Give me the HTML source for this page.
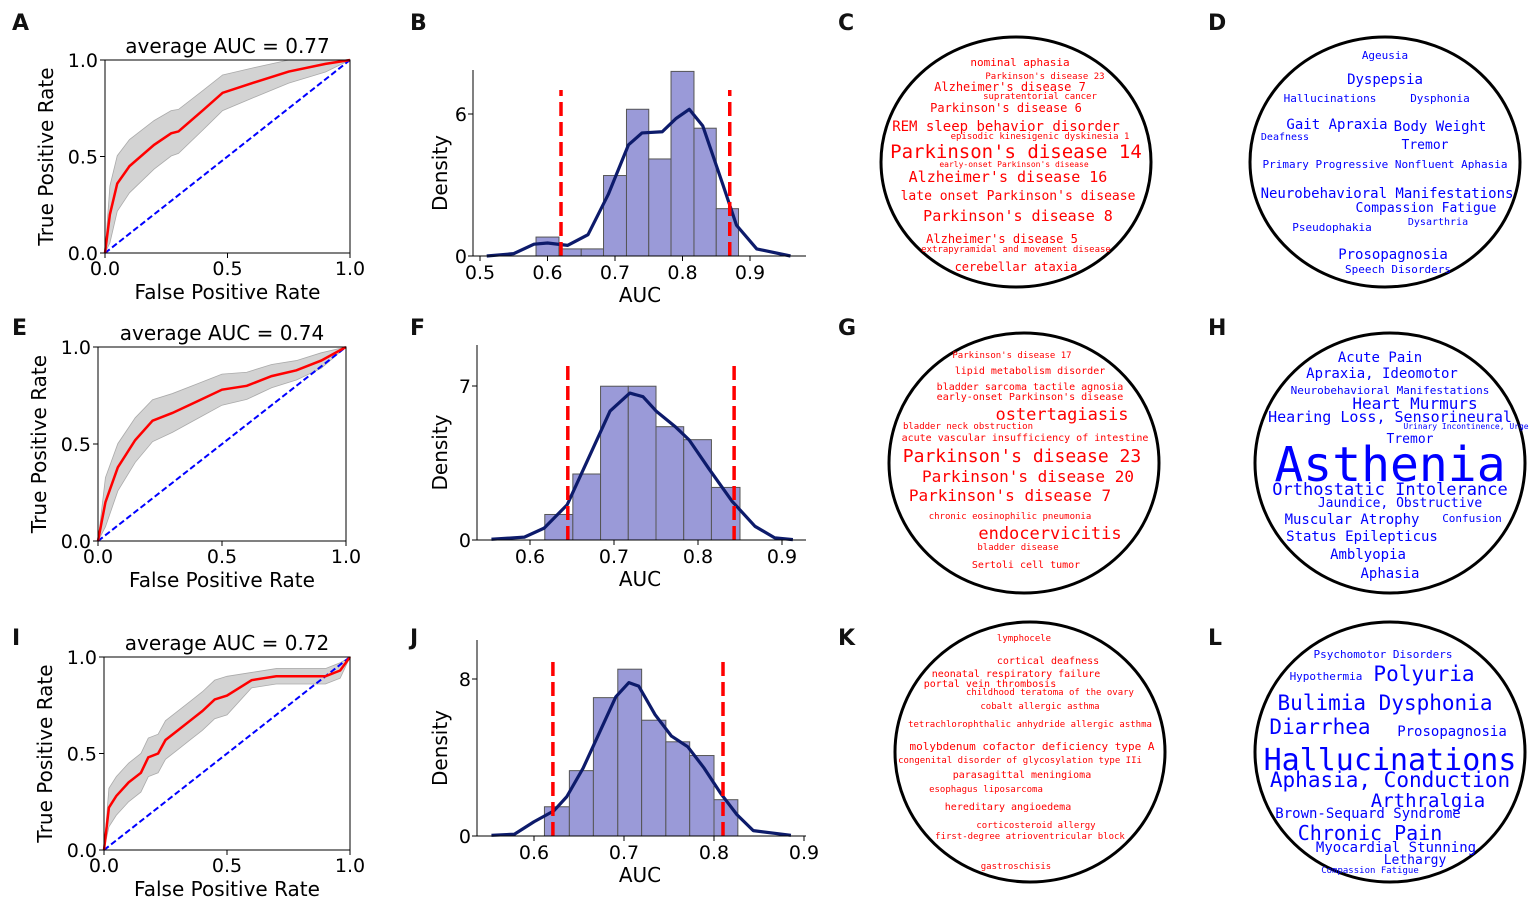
<!DOCTYPE html><html><head><meta charset="utf-8"><style>
body{margin:0;background:#fff}svg{display:block}
text{font-family:"DejaVu Sans","Liberation Sans",sans-serif}
.wc text{font-family:"DejaVu Sans Mono","Liberation Mono",monospace;text-anchor:middle}
</style></head><body>
<svg id="s" width="1535" height="902" viewBox="0 0 1535 902" xmlns="http://www.w3.org/2000/svg">
<g font-weight="bold" font-size="22" fill="#111">
<text x="12" y="30">A</text><text x="410" y="30">B</text><text x="838" y="30">C</text><text x="1208" y="30">D</text>
<text x="12" y="335">E</text><text x="410" y="335">F</text><text x="838" y="335">G</text><text x="1208" y="335">H</text>
<text x="12" y="645">I</text><text x="410" y="645">J</text><text x="838" y="645">K</text><text x="1208" y="645">L</text>
</g>
<g class="wc" fill="none" stroke="#000" stroke-width="3">
<ellipse cx="1016" cy="162" rx="135" ry="125"/><ellipse cx="1385" cy="162" rx="135" ry="125"/>
<ellipse cx="1024" cy="463" rx="135" ry="130"/><ellipse cx="1390" cy="463" rx="135" ry="130"/>
<ellipse cx="1030" cy="752" rx="135" ry="130"/><ellipse cx="1390" cy="752" rx="135" ry="130"/>
</g>
<g class="wc" fill="#f00">
<text x="1020" y="66" font-size="11">nominal aphasia</text>
<text x="1045" y="79" font-size="9">Parkinson's disease 23</text>
<text x="1010" y="91" font-size="12">Alzheimer's disease 7</text>
<text x="1040" y="99" font-size="9">supratentorial cancer</text>
<text x="1006" y="112" font-size="12">Parkinson's disease 6</text>
<text x="1006" y="131" font-size="14">REM sleep behavior disorder</text>
<text x="1040" y="139" font-size="9">episodic kinesigenic dyskinesia 1</text>
<text x="1016" y="158" font-size="19">Parkinson's disease 14</text>
<text x="1014" y="167" font-size="8">early-onset Parkinson's disease</text>
<text x="1008" y="182" font-size="15">Alzheimer's disease 16</text>
<text x="1018" y="200" font-size="13">late onset Parkinson's disease</text>
<text x="1018" y="221" font-size="15">Parkinson's disease 8</text>
<text x="1002" y="243" font-size="12">Alzheimer's disease 5</text>
<text x="1016" y="252" font-size="9">extrapyramidal and movement disease</text>
<text x="1016" y="271" font-size="12">cerebellar ataxia</text>
<text x="1012" y="358" font-size="9">Parkinson's disease 17</text>
<text x="1030" y="374" font-size="10">lipid metabolism disorder</text>
<text x="1030" y="390" font-size="10">bladder sarcoma  tactile agnosia</text>
<text x="1030" y="400" font-size="10">early-onset Parkinson's disease</text>
<text x="1062" y="420" font-size="17">ostertagiasis</text>
<text x="968" y="429" font-size="9">bladder neck obstruction</text>
<text x="1025" y="441" font-size="10">acute vascular insufficiency of intestine</text>
<text x="1022" y="462" font-size="18">Parkinson's disease 23</text>
<text x="1028" y="482" font-size="16">Parkinson's disease 20</text>
<text x="1010" y="501" font-size="16">Parkinson's disease 7</text>
<text x="1010" y="519" font-size="9">chronic eosinophilic pneumonia</text>
<text x="1050" y="539" font-size="17">endocervicitis</text>
<text x="1018" y="550" font-size="9">bladder disease</text>
<text x="1026" y="568" font-size="10">Sertoli cell tumor</text>
<text x="1024" y="641" font-size="9">lymphocele</text>
<text x="1048" y="664" font-size="10">cortical deafness</text>
<text x="1016" y="677" font-size="10">neonatal respiratory failure</text>
<text x="990" y="687" font-size="10">portal vein thrombosis</text>
<text x="1050" y="695" font-size="9">childhood teratoma of the ovary</text>
<text x="1040" y="709" font-size="9">cobalt allergic asthma</text>
<text x="1030" y="727" font-size="9">tetrachlorophthalic anhydride allergic asthma</text>
<text x="1032" y="750" font-size="11">molybdenum cofactor deficiency type A</text>
<text x="1020" y="763" font-size="9">congenital disorder of glycosylation type IIi</text>
<text x="1022" y="778" font-size="10">parasagittal meningioma</text>
<text x="986" y="792" font-size="9">esophagus liposarcoma</text>
<text x="1008" y="810" font-size="10">hereditary angioedema</text>
<text x="1036" y="828" font-size="9">corticosteroid allergy</text>
<text x="1030" y="839" font-size="9">first-degree atrioventricular block</text>
<text x="1016" y="869" font-size="9">gastroschisis</text>
</g>
<g class="wc" fill="#00f">
<text x="1385" y="59" font-size="11">Ageusia</text>
<text x="1385" y="84" font-size="14">Dyspepsia</text>
<text x="1330" y="102" font-size="11">Hallucinations</text>
<text x="1440" y="102" font-size="11">Dysphonia</text>
<text x="1337" y="129" font-size="14">Gait Apraxia</text>
<text x="1440" y="131" font-size="14">Body Weight</text>
<text x="1285" y="140" font-size="10">Deafness</text>
<text x="1425" y="149" font-size="13">Tremor</text>
<text x="1385" y="168" font-size="11">Primary Progressive Nonfluent Aphasia</text>
<text x="1387" y="198" font-size="14">Neurobehavioral Manifestations</text>
<text x="1426" y="212" font-size="13">Compassion Fatigue</text>
<text x="1438" y="225" font-size="10">Dysarthria</text>
<text x="1332" y="231" font-size="11">Pseudophakia</text>
<text x="1393" y="259" font-size="14">Prosopagnosia</text>
<text x="1398" y="273" font-size="11">Speech Disorders</text>
<text x="1380" y="362" font-size="14">Acute Pain</text>
<text x="1382" y="378" font-size="14">Apraxia, Ideomotor</text>
<text x="1390" y="394" font-size="11">Neurobehavioral Manifestations</text>
<text x="1415" y="409" font-size="16">Heart Murmurs</text>
<text x="1390" y="422" font-size="15">Hearing Loss, Sensorineural</text>
<text x="1466" y="429" font-size="8">Urinary Incontinence, Urge</text>
<text x="1410" y="443" font-size="13">Tremor</text>
<text x="1390" y="481" font-size="48">Asthenia</text>
<text x="1390" y="495" font-size="17">Orthostatic Intolerance</text>
<text x="1400" y="507" font-size="13">Jaundice, Obstructive</text>
<text x="1352" y="524" font-size="14">Muscular Atrophy</text>
<text x="1472" y="522" font-size="11">Confusion</text>
<text x="1362" y="541" font-size="14">Status Epilepticus</text>
<text x="1368" y="559" font-size="14">Amblyopia</text>
<text x="1390" y="578" font-size="14">Aphasia</text>
<text x="1383" y="658" font-size="11">Psychomotor Disorders</text>
<text x="1326" y="680" font-size="11">Hypothermia</text>
<text x="1424" y="681" font-size="21">Polyuria</text>
<text x="1385" y="710" font-size="21">Bulimia Dysphonia</text>
<text x="1320" y="734" font-size="21">Diarrhea</text>
<text x="1452" y="736" font-size="14">Prosopagnosia</text>
<text x="1390" y="770" font-size="30">Hallucinations</text>
<text x="1390" y="787" font-size="21">Aphasia, Conduction</text>
<text x="1428" y="807" font-size="19">Arthralgia</text>
<text x="1368" y="818" font-size="14">Brown-Sequard Syndrome</text>
<text x="1370" y="840" font-size="20">Chronic Pain</text>
<text x="1396" y="852" font-size="14">Myocardial Stunning</text>
<text x="1415" y="864" font-size="13">Lethargy</text>
<text x="1370" y="873" font-size="9">Compassion Fatigue</text>
</g>
<g id="dyn"></g>
</svg>
<script>
const G=document.getElementById("dyn");let h="";
function roc(x0,x1,y0,y1,title,red,band){
 const X=f=>x0+(x1-x0)*f,Y=t=>y0-(y0-y1)*t;
 let up=band.map(p=>X(p[0])+","+Y(Math.min(1,p[1]+p[2]))).join(" ");
 let lo=band.slice().reverse().map(p=>X(p[0])+","+Y(Math.max(0,p[1]-p[2]))).join(" ");
 h+=`<polygon points="${up} ${lo}" fill="#d3d3d3" stroke="#aaa" stroke-width="0.8"/>`;
 h+=`<line x1="${X(0)}" y1="${Y(0)}" x2="${X(1)}" y2="${Y(1)}" stroke="#00f" stroke-width="2" stroke-dasharray="6,3"/>`;
 h+=`<polyline points="${red.map(p=>X(p[0])+","+Y(p[1])).join(" ")}" fill="none" stroke="#f00" stroke-width="2.5"/>`;
 h+=`<rect x="${x0}" y="${y1}" width="${x1-x0}" height="${y0-y1}" fill="none" stroke="#000" stroke-width="1"/>`;
 for(const v of [0,0.5,1]){const l=v.toFixed(1);
  h+=`<line x1="${X(v)}" y1="${y0}" x2="${X(v)}" y2="${y0+5}" stroke="#000"/><text x="${X(v)}" y="${y0+22}" font-size="19" text-anchor="middle">${l}</text>`;
  h+=`<line x1="${x0-5}" y1="${Y(v)}" x2="${x0}" y2="${Y(v)}" stroke="#000"/><text x="${x0-7}" y="${Y(v)+7}" font-size="19" text-anchor="end">${l}</text>`;}
 h+=`<text x="${(x0+x1)/2}" y="${y1-7}" font-size="20" text-anchor="middle">${title}</text>`;
 h+=`<text x="${(x0+x1)/2}" y="${y0+46}" font-size="20" text-anchor="middle">False Positive Rate</text>`;
 h+=`<text transform="translate(${x0-52},${(y0+y1)/2}) rotate(-90)" font-size="20" text-anchor="middle">True Positive Rate</text>`;
}
function mk(pts,w){return pts.map(p=>[p[0],p[1],w(p[0])])}
const rA=[[0,0],[0.02,0.2],[0.05,0.36],[0.1,0.45],[0.2,0.56],[0.27,0.62],[0.3,0.63],[0.4,0.74],[0.48,0.83],[0.6,0.88],[0.75,0.94],[0.9,0.98],[1,1]];
roc(105,350,253,60,"average AUC = 0.77",rA,mk(rA,f=>f==0||f==1?0:0.12*(1-f)+0.03));
const rE=[[0,0],[0.03,0.2],[0.08,0.38],[0.15,0.52],[0.22,0.62],[0.3,0.66],[0.4,0.72],[0.5,0.78],[0.6,0.8],[0.7,0.85],[0.8,0.88],[0.9,0.93],[1,1]];
roc(98,346,541,347,"average AUC = 0.74",rE,mk(rE,f=>f==0||f==1?0:0.1*(1-f)+0.03));
const rI=[[0,0],[0.02,0.22],[0.05,0.28],[0.1,0.35],[0.15,0.4],[0.18,0.48],[0.22,0.5],[0.25,0.57],[0.3,0.62],[0.35,0.67],[0.4,0.72],[0.45,0.78],[0.5,0.8],[0.6,0.88],[0.7,0.9],[0.8,0.9],[0.9,0.9],[0.96,0.93],[1,1]];
roc(104,350,850,657,"average AUC = 0.72",rI,mk(rI,f=>f==0||f==1?0:(f<0.6?0.1:0.04)));
function hist(a0,a1,p0,p1,y0,d1,py1,spx,ticks,yt,edges,hs,kde,vl,yx){
 const X=v=>p0+(p1-p0)*(v-a0)/(a1-a0),Y=d=>y0-(y0-py1)*d/d1;
 edges.slice(0,-1).forEach((e,i)=>{h+=`<rect x="${X(e)}" y="${Y(hs[i])}" width="${X(edges[i+1])-X(e)}" height="${y0-Y(hs[i])}" fill="#9a9ad8" stroke="#555" stroke-width="1"/>`});
 h+=`<polyline points="${kde.map(p=>X(p[0])+","+Y(p[1])).join(" ")}" fill="none" stroke="#0d1b6b" stroke-width="3.2" stroke-linejoin="round"/>`;
 for(const v of vl)h+=`<line x1="${X(v)}" y1="${y0}" x2="${X(v)}" y2="${yx}" stroke="#f00" stroke-width="3.5" stroke-dasharray="14,6"/>`;
 h+=`<line x1="${spx}" y1="${y0}" x2="${spx}" y2="${yx-20}" stroke="#000"/><line x1="${spx}" y1="${y0}" x2="806" y2="${y0}" stroke="#000"/>`;
 for(const t of ticks)h+=`<line x1="${X(t)}" y1="${y0}" x2="${X(t)}" y2="${y0+5}" stroke="#000"/><text x="${X(t)}" y="${y0+23}" font-size="19" text-anchor="middle">${t.toFixed(1)}</text>`;
 for(const t of yt)h+=`<line x1="${spx-5}" y1="${Y(t)}" x2="${spx}" y2="${Y(t)}" stroke="#000"/><text x="${spx-6}" y="${Y(t)+7}" font-size="19" text-anchor="end">${t}</text>`;
 h+=`<text x="640" y="${y0+46}" font-size="20" text-anchor="middle">AUC</text>`;
 h+=`<text transform="translate(447,${(y0+yx)/2}) rotate(-90)" font-size="20" text-anchor="middle">Density</text>`;
}
const eB=[0.583,0.617,0.65,0.683,0.717,0.75,0.783,0.817,0.85,0.883];
hist(0.5,0.9,480,750,256,6,114,473,[0.5,0.6,0.7,0.8,0.9],[0,6],eB,[0.8,0.3,0.3,3.4,6.2,4.1,7.8,5.4,2.0],
 [[0.51,0],[0.55,0.1],[0.58,0.5],[0.6,0.55],[0.63,0.45],[0.66,0.9],[0.69,2.6],[0.72,4.7],[0.74,5.2],[0.77,5.25],[0.79,5.8],[0.81,6.2],[0.83,5.5],[0.86,3.0],[0.88,1.3],[0.91,0.3],[0.96,0]],[0.62,0.87],90);
const fx=x=>0.6+(x-317)/2550, fy=y=>(558-y)/61.1;
const kF=[[200,556],[300,550],[360,525],[430,460],[500,320],[560,200],[620,150],[660,160],[700,200],[760,245],[800,280],[860,360],[930,450],[1000,520],[1060,552],[1115,557]].map(p=>[fx(p[0]),fy(p[1])]);
hist(0.6,0.9,530,782,540,7,386,477,[0.6,0.7,0.8,0.9],[0,7],[0.6176,0.651,0.684,0.717,0.75,0.783,0.816,0.85],[1.16,3.0,6.99,6.99,5.15,4.56,2.39],kF,[0.645,0.843],365);
const jx=x=>0.6+(x-330)/2750, jy=y=>(1390-y)/55;
const kJ=[[200,1388],[270,1385],[330,1350],[390,1320],[430,1280],[480,1200],[530,1100],[580,1000],[620,960],[650,970],[700,1050],[750,1110],[800,1140],[850,1200],[900,1270],[950,1330],[1000,1375],[1115,1388]].map(p=>[jx(p[0]),jy(p[1])]);
hist(0.6,0.9,534,804,836,8,679,477,[0.6,0.7,0.8,0.9],[0,8],[0.6116,0.6393,0.666,0.6931,0.7196,0.7465,0.773,0.8,0.8265],[1.49,3.33,7.05,8.5,5.9,4.8,4.1,1.85],kJ,[0.621,0.81],660);
G.innerHTML=h;
</script></body></html>
